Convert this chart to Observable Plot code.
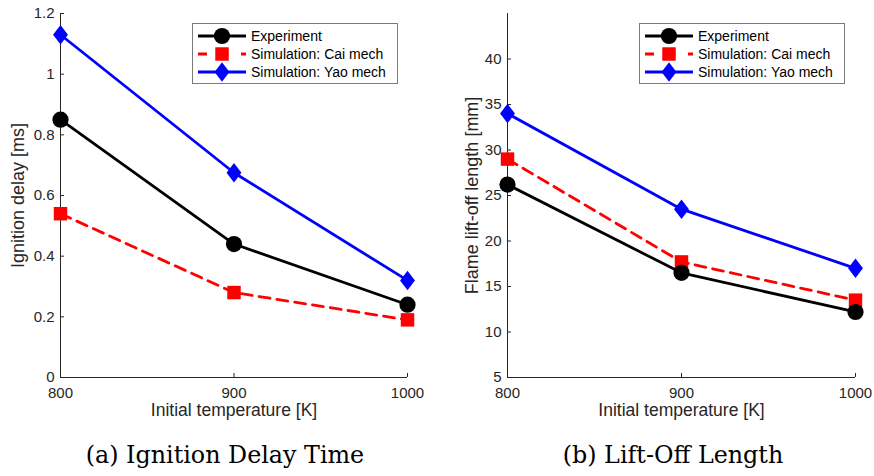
<!DOCTYPE html>
<html>
<head>
<meta charset="utf-8">
<script src="https://cdn.jsdelivr.net/npm/d3@7"></script>
<script src="https://cdn.jsdelivr.net/npm/@observablehq/plot@0.6"></script>
<style>
  html, body { margin: 0; padding: 0; background: #fff; }
  #root { position: relative; width: 874px; height: 476px; overflow: hidden; }
  .panel { position: absolute; top: 0; }
  .caption { position: absolute; font-family: "DejaVu Serif", serif; font-size: 23.8px; color: #000; white-space: nowrap; transform: translateX(-50%); }
  .legend { position: absolute; }
</style>
</head>
<body>
<div id="root"></div>
<script>
// ---- data ----
const temps = [800, 900, 1000];
const tempTicks = [800, 900, 1000];
const seriesNames = ["Experiment", "Simulation: Cai mech", "Simulation: Yao mech"];
const delayExp = [0.85, 0.44, 0.24];
const delayCai = [0.54, 0.28, 0.19];
const delayYao = [1.13, 0.675, 0.32];
const delayTicks = [0, 0.2, 0.4, 0.6, 0.8, 1, 1.2];
const liftExp = [26.2, 16.5, 12.2];
const liftCai = [29.0, 17.7, 13.5];
const liftYao = [34.0, 23.5, 17.0];
const liftTicks = [5, 10, 15, 20, 25, 30, 35, 40];
const xLabel = "Initial temperature [K]";
const delayLabel = "Ignition delay [ms]";
const liftLabel = "Flame lift-off length [mm]";
const captions = ["(a) Ignition Delay Time", "(b) Lift-Off Length"];

// ---- styles ----
const AX = "#262626";
const tallDiamond = {
  draw(context, size) {
    const r = Math.sqrt(size / Math.PI);
    context.moveTo(0, -1.22 * r);
    context.lineTo(0.93 * r, 0);
    context.lineTo(0, 1.22 * r);
    context.lineTo(-0.93 * r, 0);
    context.closePath();
  }
};
const styles = [
  {color: "#000000", dash: null, symbol: "circle", r: 8.1},
  {color: "#ff0000", dash: "11,7", symbol: "square", r: 7.6},
  {color: "#0000ff", dash: null, symbol: tallDiamond, r: 8}
];

function rows(vals, s) { return temps.map((t, i) => ({T: t, v: vals[i], s})); }

function seriesMarks(data, st) {
  return [
    Plot.line(data, {x: "T", y: "v", stroke: st.color, strokeWidth: 2.8, strokeDasharray: st.dash || undefined, strokeLinejoin: "round"}),
    Plot.dot(data, {x: "T", y: "v", r: st.r, symbol: () => st.symbol, fill: st.color, stroke: "none"})
  ];
}

function panel(opts) {
  const {values, yDomain, yTicks, yLabel, marginLeft, marginRight, yLabelDx} = opts;
  const order = [1, 2, 0];
  const marks = [
    Plot.ruleX([tempTicks[0]], {stroke: AX, strokeWidth: 1}),
    Plot.ruleY([yDomain[0]], {stroke: AX, strokeWidth: 1}),
    Plot.axisX({ticks: tempTicks, tickSize: -4, tickPadding: 14, tickFormat: d => String(d), label: null, stroke: AX, color: AX}),
    Plot.axisY({ticks: yTicks, tickSize: -4, tickPadding: 10, tickFormat: d => String(d), label: null, stroke: AX, color: AX}),
    Plot.text([xLabel], {text: d => d, frameAnchor: "bottom", textAnchor: "middle", dy: 38, fontSize: 17.5, fill: AX}),
    Plot.text([yLabel], {text: d => d, frameAnchor: "left", textAnchor: "middle", dx: yLabelDx, rotate: -90, fontSize: 18, fill: AX})
  ];
  for (const k of order) marks.push(...seriesMarks(rows(values[k], seriesNames[k]), styles[k]));
  return Plot.plot({
    width: 437, height: 420,
    marginLeft, marginRight, marginTop: 13, marginBottom: 43,
    x: {domain: [800, 1000]},
    y: {domain: yDomain},
    style: {fontFamily: "'Liberation Sans', Arial, sans-serif", fontSize: "15px", color: AX, background: "transparent", overflow: "visible"},
    marks
  });
}

function legend(left, top) {
  const w = 205, h = 60;
  const svg = d3.create("svg").attr("class", "legend").attr("width", w + 2).attr("height", h + 2)
    .style("left", left + "px").style("top", top + "px");
  svg.append("rect").attr("x", 0.5).attr("y", 0.5).attr("width", w).attr("height", h)
    .attr("fill", "#fff").attr("stroke", "#7a7a7a").attr("stroke-width", 1);
  seriesNames.forEach((name, i) => {
    const st = styles[i];
    const y = 13 + i * 18;
    svg.append("line").attr("x1", 6).attr("x2", 54).attr("y1", y).attr("y2", y)
      .attr("stroke", st.color).attr("stroke-width", 2.8)
      .attr("stroke-dasharray", st.dash ? "9,12.5" : null);
    const sym = st.symbol === "circle" ? d3.symbolCircle : st.symbol === "square" ? d3.symbolSquare : st.symbol;
    svg.append("path").attr("transform", `translate(30,${y})`)
      .attr("d", d3.symbol(sym, Math.PI * st.r * st.r)()).attr("fill", st.color);
    svg.append("text").attr("x", 59).attr("y", y).attr("dy", "0.35em")
      .attr("font-family", "'Liberation Sans', Arial, sans-serif").attr("font-size", 14).attr("fill", "#000")
      .text(name);
  });
  return svg.node();
}

const root = document.getElementById("root");

const left = panel({values: [delayExp, delayCai, delayYao], yDomain: [0, 1.2], yTicks: delayTicks, yLabel: delayLabel, marginLeft: 60, marginRight: 30, yLabelDx: -42});
left.classList.add("panel"); left.style.left = "0px";
root.appendChild(left);

const right = panel({values: [liftExp, liftCai, liftYao], yDomain: [5, 45], yTicks: liftTicks, yLabel: liftLabel, marginLeft: 70, marginRight: 19, yLabelDx: -35});
right.classList.add("panel"); right.style.left = "437px";
root.appendChild(right);

root.appendChild(legend(192, 23));
root.appendChild(legend(639, 23));

[[225, captions[0]], [673, captions[1]]].forEach(([cx, t]) => {
  const d = document.createElement("div");
  d.className = "caption"; d.textContent = t;
  d.style.left = cx + "px"; d.style.top = "441px";
  root.appendChild(d);
});
</script>
</body>
</html>
